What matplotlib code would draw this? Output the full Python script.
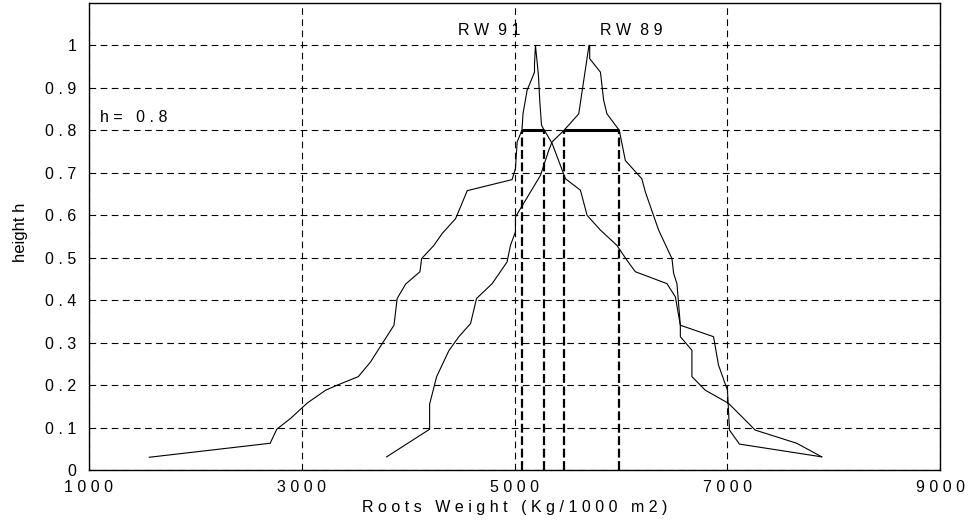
import matplotlib
matplotlib.use("Agg")
import matplotlib.pyplot as plt

plt.rcParams['font.family'] = ['Liberation Sans', 'DejaVu Sans']

# membership curves: root weight (Kg/1000 m2) against height h
rw91_x = [1566, 2703, 2765, 2897, 3053, 3225, 3335, 3532, 3648, 3757, 3867,
          3897, 3977, 4111, 4127, 4242, 4320, 4446, 4556, 4977, 5009, 5025,
          5070, 5080, 5118, 5188, 5188, 5197,
          5225, 5237, 5254, 5280, 5291, 5354, 5479, 5620, 5682, 5808, 5963,
          6057, 6136, 6433, 6512, 6559, 6871, 6918, 7002, 7021, 7115, 7888]
rw91_h = [0.030, 0.063, 0.096, 0.122, 0.158, 0.188, 0.200, 0.220, 0.255, 0.298, 0.341,
          0.404, 0.438, 0.467, 0.498, 0.529, 0.557, 0.592, 0.658, 0.684, 0.710, 0.773,
          0.800, 0.839, 0.894, 0.937, 0.957, 1.000,
          0.930, 0.871, 0.812, 0.800, 0.796, 0.769, 0.686, 0.659, 0.600, 0.565, 0.529,
          0.494, 0.467, 0.439, 0.408, 0.341, 0.314, 0.247, 0.188, 0.094, 0.061, 0.031]

rw89_x = [3798, 4202, 4202, 4268, 4383, 4477, 4587, 4643, 4790, 4930, 4962,
          5009, 5009, 5244, 5322, 5354, 5465, 5604, 5700,
          5707, 5707, 5808, 5838, 5869, 5985, 6042, 6197, 6230, 6355, 6480,
          6496, 6527, 6559, 6559, 6668, 6668, 6793, 7012, 7263, 7653, 7888]
rw89_h = [0.031, 0.096, 0.155, 0.220, 0.281, 0.314, 0.345, 0.404, 0.439, 0.490, 0.529,
          0.561, 0.596, 0.694, 0.753, 0.773, 0.800, 0.839, 1.000,
          1.000, 0.969, 0.937, 0.871, 0.839, 0.800, 0.729, 0.686, 0.655, 0.565, 0.498,
          0.463, 0.439, 0.341, 0.314, 0.282, 0.220, 0.188, 0.157, 0.094, 0.063, 0.031]

# alpha cut at h = 0.8
h_cut = 0.8
cut_rw91 = [5070, 5280]
cut_rw89 = [5465, 5985]

x_ticks = [1000, 3000, 5000, 7000, 9000]
x_labels = ['1 0 0 0', '3 0 0 0', '5 0 0 0', '7 0 0 0', '9 0 0 0']
y_ticks = [0, 0.1, 0.2, 0.3, 0.4, 0.5, 0.6, 0.7, 0.8, 0.9, 1.0]
y_labels = ['0', '0 . 1', '0 . 2', '0 . 3', '0 . 4', '0 . 5',
            '0 . 6', '0 . 7', '0 . 8', '0 . 9', '1']

fig = plt.figure(figsize=(9.68, 5.25), dpi=100)
ax = fig.add_axes([89 / 968, 55 / 525, 851 / 968, 467 / 525])

ax.set_xlim(1000, 9000)
ax.set_ylim(0, 1.1)
ax.set_xticks(x_ticks)
ax.set_xticklabels(x_labels)
ax.set_yticks(y_ticks)
ax.set_yticklabels(y_labels)
ax.tick_params(axis='both', direction='in', length=0, labelsize=11.5, colors='black')
ax.tick_params(axis='x', pad=7)
ax.tick_params(axis='y', pad=9)

ax.grid(True, color='black', linewidth=0.8, linestyle=(0, (6, 4)))
ax.set_axisbelow(True)
for s in ax.spines.values():
    s.set_linewidth(1.0)
    s.set_color('black')

ax.plot(rw91_x, rw91_h, color='black', linewidth=0.8)
ax.plot(rw89_x, rw89_h, color='black', linewidth=0.8)

for lo, hi in (cut_rw91, cut_rw89):
    ax.plot([lo, hi], [h_cut, h_cut], color='black', linewidth=2.2, solid_capstyle='butt')
    for xv in (lo, hi):
        ax.plot([xv, xv], [0, h_cut], color='black', linewidth=1.6,
                linestyle=(0, (4, 1.6)))

ax.text(4465, 1.035, 'R W  9 1', fontsize=11.5, ha='left', va='center')
ax.text(5808, 1.035, 'R W  8 9', fontsize=11.5, ha='left', va='center')
ax.text(1103, 0.83, 'h =   0 . 8', fontsize=11.5, ha='left', va='center')

ax.set_xlabel('R o o t s   W e i g h t   ( K g / 1 0 0 0   m 2 )', fontsize=11.5, labelpad=4)
ax.set_ylabel('height h', fontsize=12)
ax.yaxis.set_label_coords(-0.072, 0.51)

fig.savefig('out.png', dpi=100)
